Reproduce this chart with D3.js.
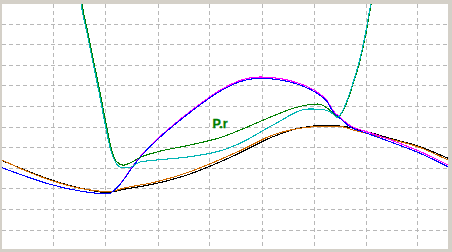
<!DOCTYPE html>
<html>
<head>
<meta charset="utf-8">
<script src="https://cdn.jsdelivr.net/npm/d3@7"></script>
<style>
  html, body { margin: 0; padding: 0; background: #d4d0c8; }
  svg { display: block; }
</style>
</head>
<body>
<div id="chart"></div>
<script>
// x in grid units (gridlines at 1..8), y in grid units (gridlines at 1..11)
const xGridTicks = [1, 2, 3, 4, 5, 6, 7, 8];
const yGridTicks = [1, 2, 3, 4, 5, 6, 7, 8, 9, 10, 11];

const blackX = [0.010, 0.356, 0.933, 1.510, 2.029, 2.337, 2.990, 3.625, 4.317, 4.587, 5.221, 5.740, 6.183, 6.510, 7.029, 7.471, 8.048, 8.587];
const blackY = [4.350, 3.985, 3.427, 3.015, 2.796, 2.942, 3.243, 3.694, 4.408, 4.723, 5.505, 5.927, 6.049, 6.024, 5.748, 5.427, 5.019, 4.456];

const orangeX = [0.010, 0.356, 0.933, 1.510, 2.087, 2.337, 2.990, 3.625, 4.260, 4.587, 5.221, 5.875, 6.183, 6.510, 6.760, 7.279, 8.048, 8.587];
const orangeY = [4.374, 3.971, 3.403, 3.000, 2.835, 3.000, 3.320, 3.806, 4.456, 4.825, 5.587, 5.961, 6.010, 6.000, 5.830, 5.505, 4.981, 4.374];

const blueX = [0.010, 0.356, 0.933, 1.510, 1.894, 2.087, 2.163, 2.279, 2.413, 2.510, 2.625, 2.990, 3.298, 3.625, 4.260, 4.587, 4.971, 5.356, 5.740, 6.067, 6.260, 6.375, 6.510, 6.702, 7.029, 7.471, 8.048, 8.587];
const blueY = [4.000, 3.680, 3.194, 2.869, 2.757, 2.757, 2.893, 3.184, 3.646, 3.995, 4.383, 5.345, 6.024, 6.680, 7.796, 8.175, 8.340, 8.257, 8.015, 7.612, 7.204, 6.718, 6.398, 5.990, 5.670, 5.262, 4.699, 4.049];

const magentaY = [4.000, 3.680, 3.194, 2.869, 2.757, 2.757, 2.893, 3.200, 3.665, 4.020, 4.410, 5.380, 6.063, 6.728, 7.845, 8.233, 8.403, 8.330, 8.078, 7.675, 7.262, 6.777, 6.437, 6.049, 5.743, 5.359, 4.786, 4.131];

const greenX = [1.510, 1.548, 1.663, 1.779, 1.894, 2.019, 2.119, 2.215, 2.342, 2.490, 2.663, 2.990, 3.625, 4.260, 4.587, 5.221, 5.606, 5.875, 6.087, 6.260, 6.413, 6.471, 6.567, 6.644, 6.765, 6.881, 7.010, 7.110, 7.183];
const greenY = [12.626, 11.947, 10.539, 9.083, 7.675, 6.024, 4.859, 4.291, 4.121, 4.252, 4.495, 4.762, 5.102, 5.505, 5.826, 6.510, 6.883, 7.044, 7.092, 6.898, 6.558, 6.461, 6.752, 7.189, 8.097, 9.068, 10.524, 11.947, 12.626];

const cyanX = [1.490, 1.529, 1.644, 1.760, 1.875, 2.000, 2.100, 2.202, 2.317, 2.471, 2.663, 2.990, 3.625, 4.260, 4.587, 5.221, 5.913, 6.125, 6.317, 6.462, 6.558, 6.635, 6.756, 6.871, 7.000, 7.102, 7.173];
const cyanY = [12.626, 11.947, 10.539, 9.083, 7.675, 6.024, 4.859, 4.228, 4.005, 4.019, 4.277, 4.374, 4.534, 4.859, 5.184, 6.073, 6.850, 6.835, 6.718, 6.447, 6.752, 7.189, 8.097, 9.068, 10.524, 11.947, 12.626];

const labelText = 'P.r';
const labelPos = [4.058, 5.951];

const width = 452, height = 252;
const plot = { left: 2, top: 4, right: 448, bottom: 249 };

const x = d3.scaleLinear().domain([0, 8.6]).range([1.5, 448.7]);
const y = d3.scaleLinear().domain([0, 12]).range([250.1, 2.9]);

const svg = d3.select('#chart').append('svg')
    .attr('width', width)
    .attr('height', height);

svg.append('defs')
    .append('clipPath')
    .attr('id', 'plotClip')
    .append('rect')
    .attr('x', plot.left)
    .attr('y', plot.top)
    .attr('width', plot.right - plot.left)
    .attr('height', plot.bottom - plot.top);

svg.append('rect')
    .attr('x', plot.left)
    .attr('y', plot.top)
    .attr('width', plot.right - plot.left)
    .attr('height', plot.bottom - plot.top)
    .attr('fill', '#ffffff');

const grid = svg.append('g')
    .attr('clip-path', 'url(#plotClip)')
    .attr('stroke', '#b8b8b8')
    .attr('stroke-width', 1)
    .attr('stroke-dasharray', '4,3')
    .attr('shape-rendering', 'crispEdges');

grid.selectAll('line.vgrid')
    .data(xGridTicks)
    .enter()
    .append('line')
    .attr('class', 'vgrid')
    .attr('x1', d => Math.round(x(d)) + 0.5)
    .attr('x2', d => Math.round(x(d)) + 0.5)
    .attr('y1', plot.top)
    .attr('y2', plot.bottom);

grid.selectAll('line.hgrid')
    .data(yGridTicks)
    .enter()
    .append('line')
    .attr('class', 'hgrid')
    .attr('y1', d => Math.round(y(d)) + 0.5)
    .attr('y2', d => Math.round(y(d)) + 0.5)
    .attr('x1', plot.left)
    .attr('x2', plot.right);

const line = d3.line()
    .x(d => x(d[0]))
    .y(d => y(d[1]))
    .curve(d3.curveMonotoneX);

const series = [
    { xs: blackX, ys: blackY, color: '#000000' },
    { xs: orangeX, ys: orangeY, color: '#d06a00' },
    { xs: blueX, ys: magentaY, color: '#ff00ff' },
    { xs: blueX, ys: blueY, color: '#0000ff' },
    { xs: greenX, ys: greenY, color: '#008000' },
    { xs: cyanX, ys: cyanY, color: '#00b4b4' }
];

const curves = svg.append('g')
    .attr('clip-path', 'url(#plotClip)');

curves.selectAll('path')
    .data(series)
    .enter()
    .append('path')
    .attr('d', s => line(d3.zip(s.xs, s.ys)))
    .attr('fill', 'none')
    .attr('stroke', s => s.color)
    .attr('stroke-width', 1.1)
    .attr('shape-rendering', 'crispEdges');

svg.append('text')
    .attr('x', x(labelPos[0]))
    .attr('y', y(labelPos[1]))
    .attr('fill', '#008000')
    .attr('stroke', '#008000')
    .attr('stroke-width', 0.3)
    .attr('font-family', '"Liberation Sans", Arial, sans-serif')
    .attr('font-weight', 'bold')
    .attr('font-size', 12.5)
    .text(labelText);
</script>
</body>
</html>
